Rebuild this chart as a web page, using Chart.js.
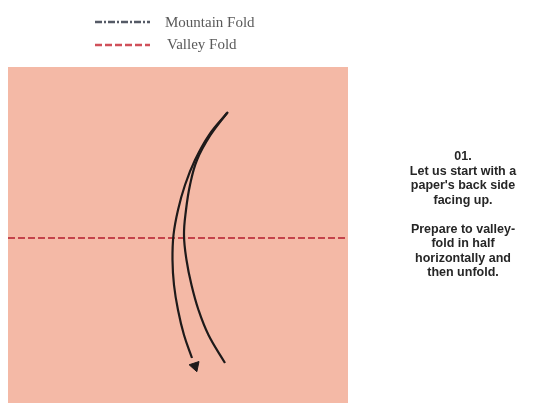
<!DOCTYPE html>
<html><head><meta charset="utf-8">
<script src="https://cdn.jsdelivr.net/npm/chart.js@4"></script>
<style>html,body{margin:0;padding:0;background:#fff;}#wrap{width:547px;height:403px;}</style>
</head><body><div id="wrap"><canvas id="c" width="547" height="403"></canvas></div>
<script>
// Paper square (top edge, filled down to the bottom)
const paperX = [8, 348];
const paperY = [67, 67];
// Valley fold line across the paper
const foldX = [8, 348];
const foldY = [238, 238];
// Outer arrow curve (with arrowhead)
const arrowOuterX = [228, 209, 195, 185, 178, 173.5, 172.5, 174, 178, 184, 192];
const arrowOuterY = [112, 135, 160, 185, 210, 235, 260, 285, 310, 335, 358];
const arrowHeadX = [195];
const arrowHeadY = [366];
// Inner arrow curve
const arrowInnerX = [227, 210.5, 197, 190, 186, 184, 186.5, 191.5, 198.5, 208.5, 225];
const arrowInnerY = [113, 135, 160, 185, 210, 235, 260, 285, 310, 335, 363];
// Legend samples
const legendMountainX = [95, 150];
const legendMountainY = [22, 22];
const legendValleyX = [95, 150];
const legendValleyY = [45, 45];
const legendLabels = ["Mountain Fold", "Valley Fold"];
const legendLabelX = [165, 167];
const legendLabelY = [23, 45];
// Instruction text
const stepLines = ["01.", "Let us start with a", "paper's back side", "facing up.", "", "Prepare to valley-", "fold in half", "horizontally and", "then unfold."];

const pts = (xs, ys) => xs.map((x, i) => ({x, y: ys[i]}));

const textPlugin = {
  id: 'texts',
  afterDraw(chart) {
    const ctx = chart.ctx, sx = chart.scales.x, sy = chart.scales.y;
    ctx.save();
    ctx.fillStyle = '#5a5a5a';
    ctx.font = '15px "Liberation Serif", "DejaVu Serif", serif';
    ctx.textBaseline = 'middle';
    ctx.textAlign = 'left';
    legendLabels.forEach((t, i) => ctx.fillText(t, sx.getPixelForValue(legendLabelX[i]), sy.getPixelForValue(legendLabelY[i])));
    ctx.fillStyle = '#262626';
    ctx.font = 'bold 12.5px "Liberation Sans", Arial, sans-serif';
    ctx.textAlign = 'center';
    stepLines.forEach((t, i) => {
      if (t) ctx.fillText(t, sx.getPixelForValue(463), sy.getPixelForValue(157 + i * 14.5));
    });
    ctx.restore();
  }
};

new Chart(document.getElementById('c'), {
  type: 'scatter',
  data: {
    datasets: [
      {data: pts(paperX, paperY), showLine: true, fill: 'start', backgroundColor: '#f4b9a6', borderWidth: 0, pointRadius: 0, order: 5},
      {data: pts(foldX, foldY), showLine: true, borderColor: '#c4434a', borderWidth: 2, borderDash: [7, 3], pointRadius: 0, order: 4},
      {data: pts(arrowOuterX, arrowOuterY), showLine: true, tension: 0.4, borderColor: '#1e1a1a', borderWidth: 2.2, pointRadius: 0, order: 1},
      {data: pts(arrowInnerX, arrowInnerY), showLine: true, tension: 0.4, borderColor: '#1e1a1a', borderWidth: 2.2, pointRadius: 0, order: 1},
      {data: pts(arrowHeadX, arrowHeadY), pointStyle: 'triangle', pointRadius: 6, rotation: 162, backgroundColor: '#1e1a1a', borderColor: '#1e1a1a', borderWidth: 1, order: 0},
      {data: pts(legendMountainX, legendMountainY), showLine: true, borderColor: '#555a66', borderWidth: 2.5, borderDash: [7, 2, 2, 2], pointRadius: 0},
      {data: pts(legendValleyX, legendValleyY), showLine: true, borderColor: '#d0505a', borderWidth: 2.5, borderDash: [7, 3], pointRadius: 0}
    ]
  },
  options: {
    responsive: false,
    animation: false,
    layout: {padding: 0, autoPadding: false},
    plugins: {legend: {display: false}, tooltip: {enabled: false}},
    scales: {
      x: {type: 'linear', min: 0, max: 547, display: false},
      y: {type: 'linear', min: 0, max: 403, reverse: true, display: false}
    }
  },
  plugins: [textPlugin]
});
</script>
</body></html>
